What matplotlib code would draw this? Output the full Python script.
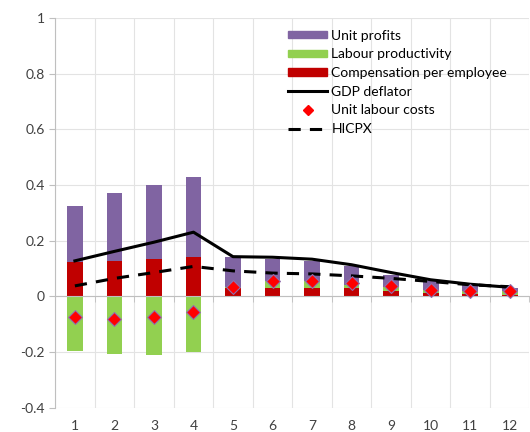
import numpy as np
import matplotlib.pyplot as plt
from matplotlib.lines import Line2D
from matplotlib.patches import Patch

plt.rcParams['font.family'] = ['Lato', 'DejaVu Sans']

# data
periods = np.arange(1, 13)
comp_per_emp = [0.123, 0.128, 0.135, 0.143, 0.030, 0.032, 0.032, 0.030, 0.020, 0.012, 0.010, 0.006]
labour_prod = [-0.196, -0.205, -0.209, -0.200, 0.003, 0.022, 0.024, 0.012, 0.015, 0.012, 0.008, 0.012]
unit_profits = [0.202, 0.243, 0.265, 0.287, 0.108, 0.081, 0.073, 0.068, 0.043, 0.032, 0.024, 0.014]
ulc = [-0.072, -0.080, -0.075, -0.056, 0.034, 0.056, 0.054, 0.048, 0.036, 0.024, 0.018, 0.018]
gdp_deflator = [0.128, 0.162, 0.195, 0.231, 0.143, 0.141, 0.134, 0.114, 0.086, 0.060, 0.044, 0.033]
hicpx = [0.038, 0.065, 0.086, 0.108, 0.092, 0.084, 0.081, 0.074, 0.065, 0.054, 0.042, 0.035]

col_red = '#C00000'
col_green = '#92D050'
col_purple = '#8064A2'

fig = plt.figure(figsize=(5.30, 4.32), dpi=100)
ax = fig.add_axes([0.104, 0.056, 0.895, 0.902])

# stacked bars, positive and negative parts stacked separately
pos_base = np.zeros(12)
neg_base = np.zeros(12)
for vals, col in [(comp_per_emp, col_red), (labour_prod, col_green), (unit_profits, col_purple)]:
    vals = np.array(vals)
    bottoms = np.where(vals >= 0, pos_base, neg_base)
    ax.bar(periods, vals, width=0.4, bottom=bottoms, color=col, zorder=2)
    pos_base += np.where(vals >= 0, vals, 0)
    neg_base += np.where(vals < 0, vals, 0)

ax.plot(periods, gdp_deflator, color='black', lw=2.2, zorder=3)
ax.plot(periods, hicpx, color='black', lw=2.2, ls=(0, (4, 3)), zorder=3)
ax.scatter(periods, ulc, marker='D', s=50, color='#FF0000', edgecolor='#9070B0', lw=0.8, zorder=4)

ax.set_xlim(0.5, 12.5)
ax.set_ylim(-0.4, 1.0)
ax.set_yticks(np.arange(-0.4, 1.01, 0.2))
ax.set_yticklabels(['-0.4', '-0.2', '0', '0.2', '0.4', '0.6', '0.8', '1'])

# grid
ax.set_xticks(np.arange(0.5, 12.6, 1), minor=True)
ax.grid(axis='y', color='#E3E3E3', lw=0.8, zorder=0)
ax.grid(axis='x', which='minor', color='#E3E3E3', lw=0.8, zorder=0)

for s in ['top', 'right']:
    ax.spines[s].set_visible(False)
ax.spines['left'].set_color('#BFBFBF')
ax.spines['bottom'].set_position(('data', 0))
ax.spines['bottom'].set_color('#BFBFBF')
ax.tick_params(axis='y', colors='#BFBFBF', labelcolor='#404040', labelsize=10, length=4)
ax.tick_params(axis='x', which='minor', colors='#BFBFBF', length=4)
ax.set_xticks([])

sec = ax.secondary_xaxis('bottom')
sec.set_xticks(periods)
sec.spines['bottom'].set_visible(False)
sec.tick_params(length=0, labelsize=10, labelcolor='#404040', pad=9)

handles = [
    Patch(color=col_purple, label='Unit profits'),
    Patch(color=col_green, label='Labour productivity'),
    Patch(color=col_red, label='Compensation per employee'),
    Line2D([], [], color='black', lw=2.2, label='GDP deflator'),
    Line2D([], [], color='#FF0000', marker='D', ls='none', markersize=5, label='Unit labour costs'),
    Line2D([], [], color='black', lw=2.2, ls=(0, (4, 3)), label='HICPX'),
]
leg = ax.legend(handles=handles, loc='upper left', bbox_to_anchor=(0.48, 0.985), frameon=False,
                fontsize=10, handlelength=2.8, handleheight=0.45, labelspacing=0.48,
                handletextpad=0.3, borderaxespad=0)

fig.savefig('out.png', dpi=100)
